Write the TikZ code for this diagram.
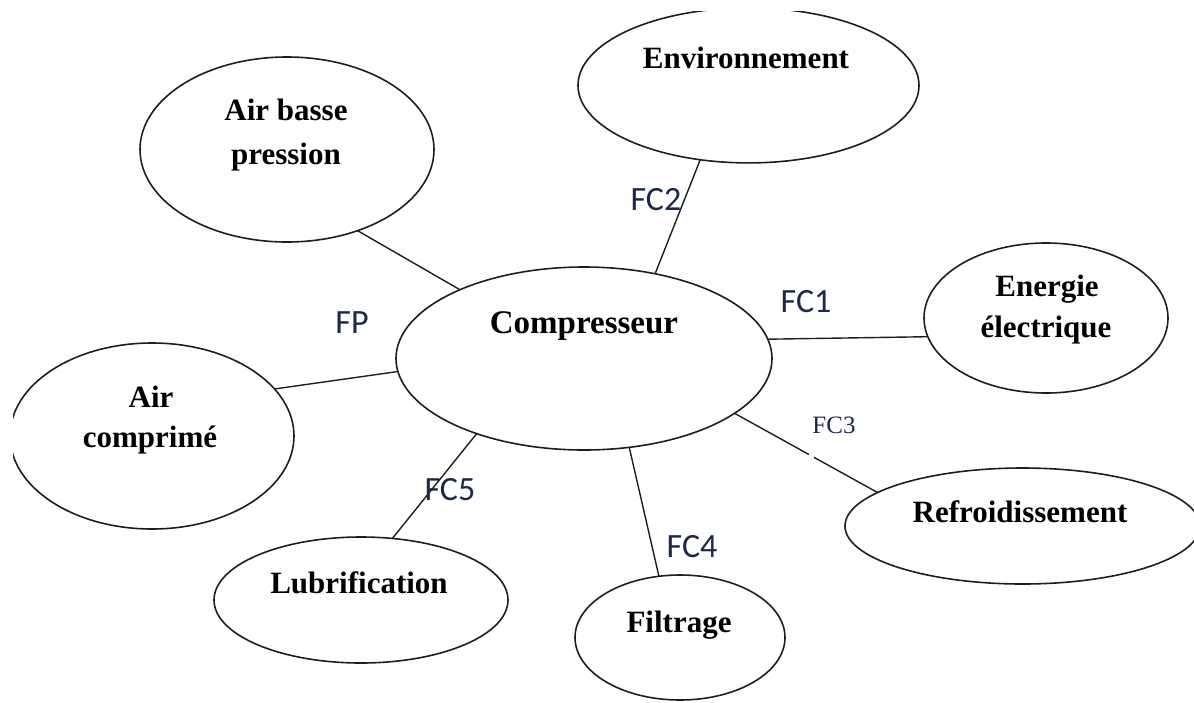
\documentclass[tikz,border=0pt]{standalone}
\usepackage{fontspec}
\setmainfont{Liberation Serif}
\newfontfamily\labfont{Carlito}
\usetikzlibrary{shapes.geometric,calc}
\definecolor{labcol}{RGB}{28,40,72}
\definecolor{linecol}{RGB}{30,30,30}
\begin{document}
\begin{tikzpicture}[x=1pt,y=-1pt,
  bub/.style={ellipse, draw=linecol, line width=1.6pt, inner sep=0pt, outer sep=0pt},
  nt/.style={anchor=base, inner sep=0pt, font=\fontsize{31}{37}\selectfont\bfseries},
  lab/.style={anchor=base, inner sep=0pt, text=labcol, font=\labfont\fontsize{34}{40}\selectfont},
  labserif/.style={anchor=base, inner sep=0pt, text=labcol, font=\fontsize{25}{30}\selectfont},
  conn/.style={draw=linecol, line width=1.4pt}]
\useasboundingbox (0,0) rectangle (1194,702);
% ellipses
\node[bub, minimum width=294pt, minimum height=185pt] (abp) at (287,149.5) {};
\begin{scope}
  \clip (0,11) rectangle (1194,702);
  \node[bub, minimum width=341pt, minimum height=155pt] (env) at (748.5,85.4) {};
\end{scope}
\node[bub, minimum width=376pt, minimum height=183pt] (comp) at (584,358.5) {};
\node[bub, minimum width=244pt, minimum height=150pt] (en) at (1046,318) {};
\begin{scope}
  \clip (13,0) rectangle (1194,702);
  \node[bub, minimum width=284pt, minimum height=186pt] (ac) at (152,436) {};
\end{scope}
\node[bub, minimum width=294pt, minimum height=126pt] (lub) at (361,600) {};
\node[bub, minimum width=210pt, minimum height=125pt] (filt) at (680,637.5) {};
\node[bub, minimum width=355pt, minimum height=116pt] (refr) at (1022.5,526) {};
% texts
\node[nt] (tabp1) at (286,120) {Air basse};
\node[nt] (tabp2) at (286,164) {pression};
\node[nt] (tenv) at (746,68) {Environnement};
\node[nt, font=\fontsize{33}{39}\selectfont\bfseries] (tcomp) at (584,333) {Compresseur};
\node[nt] (ten1) at (1047,296) {Energie};
\node[nt] (ten2) at (1046,337) {électrique};
\node[nt] (tac1) at (151,407) {Air};
\node[nt] (tac2) at (150,447) {comprimé};
\node[nt] (tlub) at (359,593) {Lubrification};
\node[nt] (tfilt) at (679,632) {Filtrage};
\node[nt] (trefr) at (1020,522) {Refroidissement};
% connectors
\draw[conn] (abp.311.6) -- (comp.151.7);
\draw[conn] (env.237.5) -- (comp.50.7);
\draw[conn] (comp.6.5) -- (en.189.4);
\draw[conn] (comp.184.2) -- (ac.21.1);
\draw[conn] (comp.215.8) -- (lub.63.8);
\draw[conn] (comp.297.2) -- (filt.109.6);
\draw[conn] (comp.340.9) -- ($(comp.340.9)!0.52!(refr.167.4)$);
\draw[conn] ($(comp.340.9)!0.555!(refr.167.4)$) -- (refr.167.4);
% labels
\node[lab] (lfp) at (352,333) {FP};
\node[lab] (lfc2) at (656,210) {FC2};
\node[lab] (lfc1) at (806,312) {FC1};
\node[labserif] (lfc3) at (834,433) {FC3};
\node[lab] (lfc4) at (692,557) {FC4};
\node[lab] (lfc5) at (450,500) {FC5};
\end{tikzpicture}
\end{document}
